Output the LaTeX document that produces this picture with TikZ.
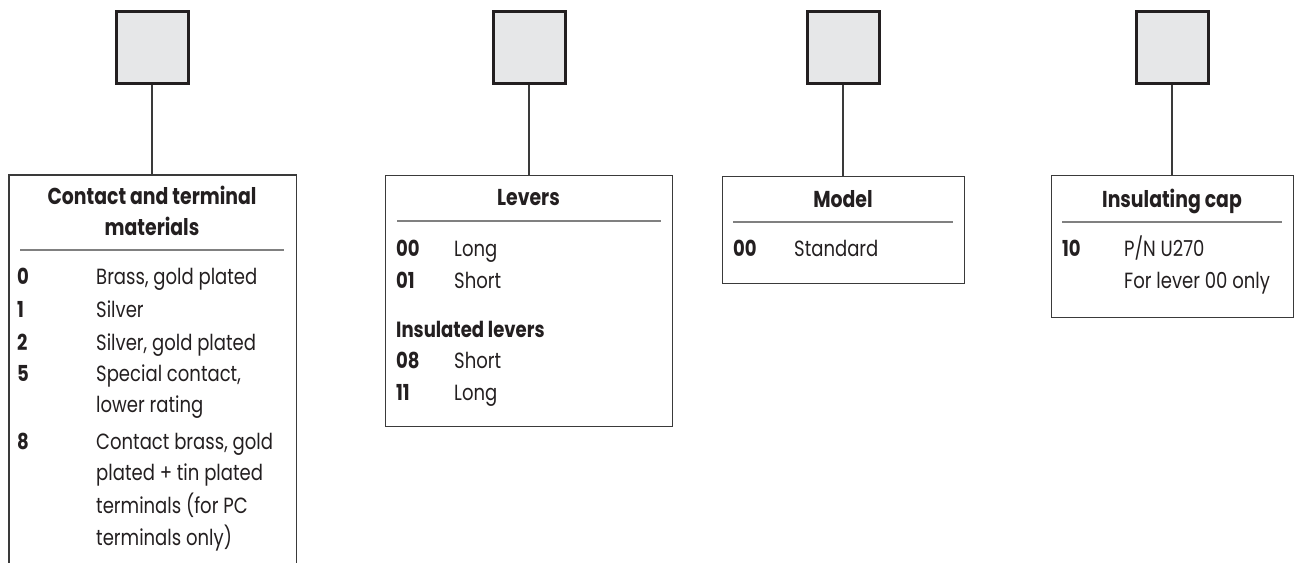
\documentclass[tikz,border=0pt]{standalone}
\usepackage{fontspec}
\setmainfont{Poppins}[FakeStretch=0.82]
\definecolor{sqfill}{HTML}{E6E7E8}
\definecolor{sqline}{HTML}{231F20}
\definecolor{boxline}{HTML}{3A3A3A}
\definecolor{sepline}{HTML}{808080}
\definecolor{txt}{HTML}{231F20}
\begin{document}
\begin{tikzpicture}[x=1pt,y=-1pt,
  sq/.style={draw=sqline,line width=3pt,fill=sqfill,minimum size=72pt,inner sep=0pt},
  panel/.style={anchor=north west,inner sep=0pt,line width=1.2pt},
  link/.style={draw=boxline,line width=1.2pt},
  sep/.style={draw=sepline,line width=1.2pt},
  ttl/.style={anchor=base,inner sep=0pt,text=txt,font=\fontsize{23}{26}\selectfont\bfseries},
  num/.style={anchor=base west,inner sep=0pt,text=txt,font=\fontsize{22}{24}\selectfont\bfseries},
  dsc/.style={anchor=base west,inner sep=0pt,text=txt,font=\fontsize{22}{24}\selectfont}]
\useasboundingbox (0,0) rectangle (1300,562);
% squares
\node[sq] (s1) at (152,47) {};
\node[sq] (s2) at (529,47) {};
\node[sq] (s3) at (843,47) {};
\node[sq] (s4) at (1172,47) {};
% panels
\node[panel,minimum width=286pt,minimum height=387pt] (b1) at (9,175) {};
\draw[draw=boxline,line width=1.2pt] (b1.south west) -- (b1.north west) -- (b1.north east) -- (b1.south east);
\node[panel,draw=boxline,minimum width=287pt,minimum height=251pt] (b2) at (385,175) {};
\node[panel,draw=boxline,minimum width=242pt,minimum height=107pt] (b3) at (722,176) {};
\node[panel,draw=boxline,minimum width=242pt,minimum height=142pt] (b4) at (1051,175) {};
% connectors
\draw[link] (s1.south) -- (s1.south |- b1.north);
\draw[link] (s2.south) -- (s2.south |- b2.north);
\draw[link] (s3.south) -- (s3.south |- b3.north);
\draw[link] (s4.south) -- (s4.south |- b4.north);
% panel 1
\node[ttl] (t1a) at (152,204) {Contact and terminal};
\node[ttl] (t1b) at (152,235) {materials};
\draw[sep] (20,250) -- (284,250);
\node[num] (n10) at (17,284) {0};
\node[dsc] (d10) at (96,284) {Brass, gold plated};
\node[num] (n11) at (17,317) {1};
\node[dsc] (d11) at (96,317) {Silver};
\node[num] (n12) at (17,350) {2};
\node[dsc] (d12) at (96,350) {Silver, gold plated};
\node[num] (n15) at (17,381) {5};
\node[dsc] (d15) at (96,381) {Special contact,};
\node[dsc] (d15b) at (96,412) {lower rating};
\node[num] (n18) at (17,449) {8};
\node[dsc] (d18) at (96,449) {Contact brass, gold};
\node[dsc] (d18b) at (96,480) {plated + tin plated};
\node[dsc] (d18c) at (96,513) {terminals (for PC};
\node[dsc] (d18d) at (96,545) {terminals only)};
% panel 2
\node[ttl] (t2) at (528.5,205) {Levers};
\draw[sep] (397,221) -- (661,221);
\node[num] (n200) at (396,256) {00};
\node[dsc] (d200) at (454,256) {Long};
\node[num] (n201) at (396,288) {01};
\node[dsc] (d201) at (454,288) {Short};
\node[num] (h2) at (396,337) {Insulated levers};
\node[num] (n208) at (396,368) {08};
\node[dsc] (d208) at (454,368) {Short};
\node[num] (n211) at (396,400) {11};
\node[dsc] (d211) at (454,400) {Long};
% panel 3
\node[ttl] (t3) at (843,207) {Model};
\draw[sep] (733,222) -- (953,222);
\node[num] (n300) at (733,256) {00};
\node[dsc] (d300) at (794,256) {Standard};
% panel 4
\node[ttl] (t4) at (1172,207) {Insulating cap};
\draw[sep] (1062,222) -- (1282,222);
\node[num] (n410) at (1062,256) {10};
\node[dsc] (d410) at (1124,256) {P/N U270};
\node[dsc] (d410b) at (1124,288) {For lever 00 only};
\end{tikzpicture}
\end{document}
